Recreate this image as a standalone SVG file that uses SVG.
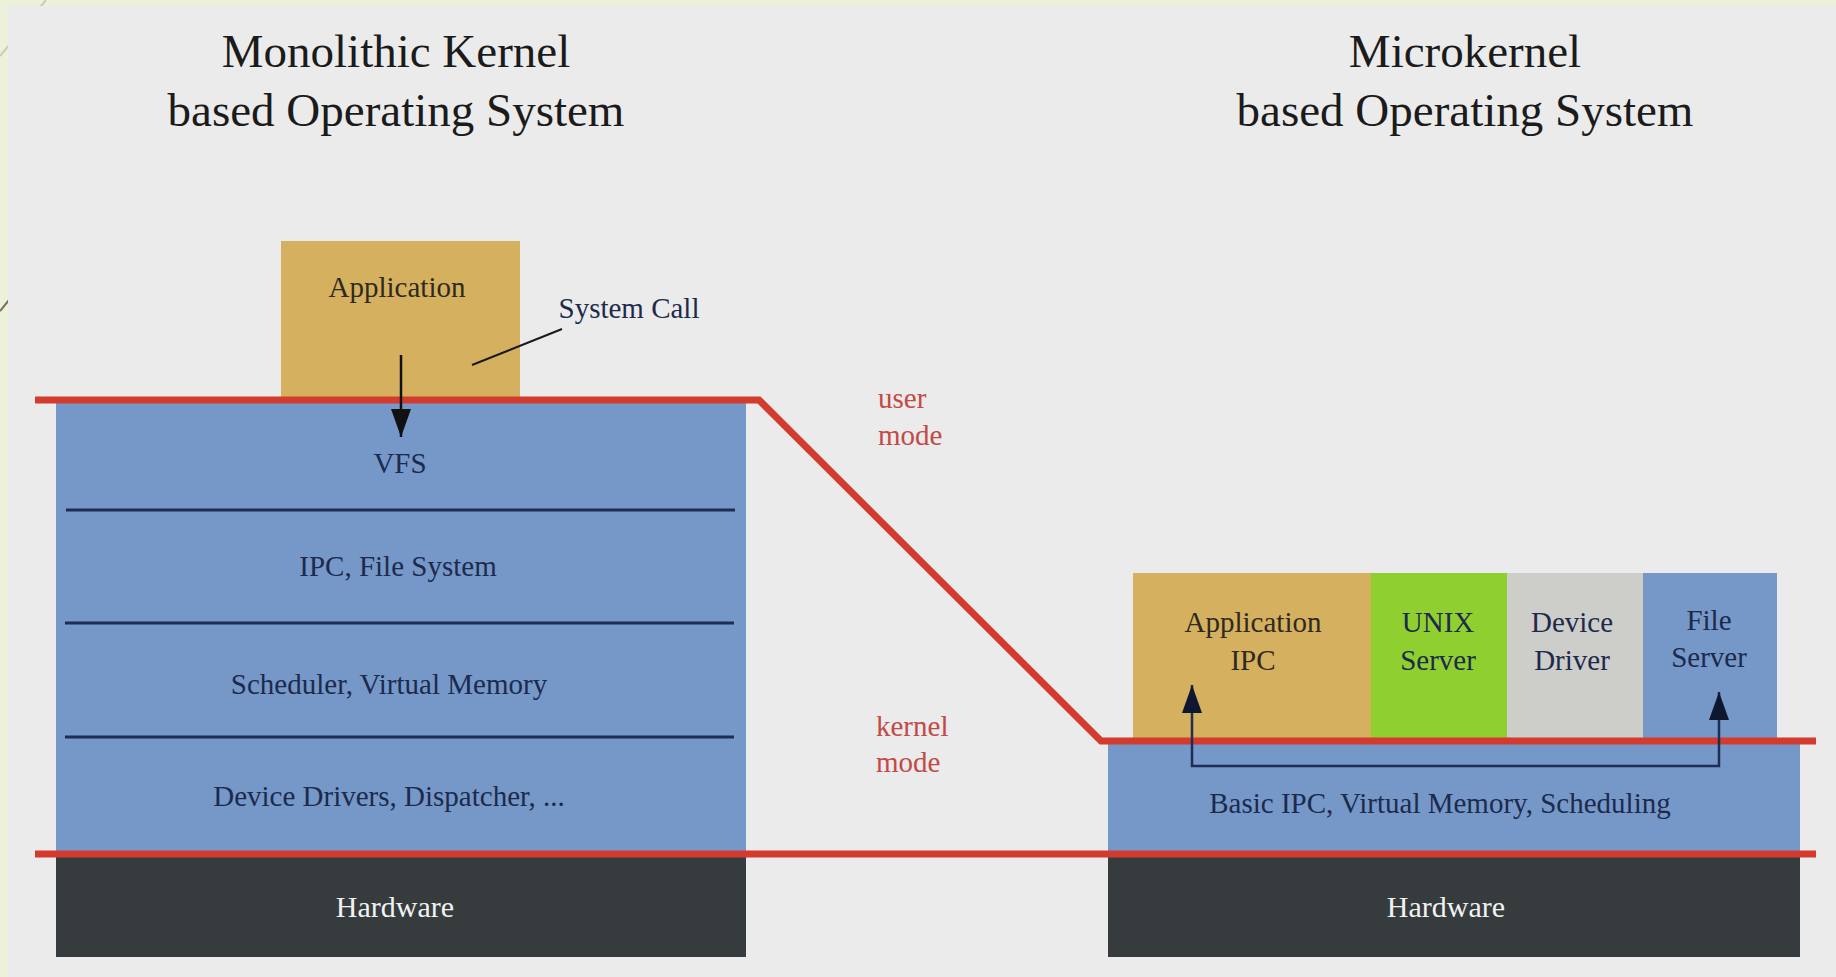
<svg xmlns="http://www.w3.org/2000/svg" width="1836" height="977" viewBox="0 0 1836 977">
  <style>
    .title { font-family: "Liberation Serif", "Times New Roman", serif; font-size: 47px; fill: #1b1b1b; text-anchor: middle; }
    .lbl { font-family: "Liberation Serif", "Times New Roman", serif; font-size: 29px; fill: #1d2a4c; text-anchor: middle; }
    .dark { fill: #2e2a1e; }
    .hw { fill: #f2f2f2; font-size: 30px; }
    .mode { font-family: "Liberation Serif", "Times New Roman", serif; font-size: 29px; fill: #c24a47; }
    .sep { stroke: #1e2d52; stroke-width: 3; }
    .boundary { fill: none; stroke: #d43b2f; stroke-width: 7; stroke-linejoin: miter; }
    .blue { fill: #7598c9; }
    .tan { fill: #d5b05f; }
    .hwbox { fill: #363b3e; }
  </style>
  <defs>
    <marker id="arrow-black" viewBox="0 0 28 20" refX="28" refY="10" markerWidth="28" markerHeight="20" markerUnits="userSpaceOnUse" orient="auto">
      <path d="M0,0 L28,10 L0,20 Z" fill="#111111"/>
    </marker>
    <marker id="arrow-navy" viewBox="0 0 28 20" refX="28" refY="10" markerWidth="28" markerHeight="20" markerUnits="userSpaceOnUse" orient="auto-start-reverse">
      <path d="M0,0 L28,10 L0,20 Z" fill="#0e1630"/>
    </marker>
  </defs>

  <!-- slide frame -->
  <rect x="0" y="0" width="1836" height="977" fill="#ecf1da"/>
  <line x1="46" y1="0" x2="0" y2="56" stroke="#c9ccb6" stroke-width="2"/>
  <line x1="48" y1="252" x2="0" y2="311" stroke="#7a6e55" stroke-width="2"/>
  <rect x="8" y="6" width="1828" height="971" fill="#ebebeb"/>

  <!-- headings -->
  <g id="title-monolithic">
    <text class="title" x="396" y="67">Monolithic Kernel</text>
    <text class="title" x="396" y="126">based Operating System</text>
  </g>
  <g id="title-microkernel">
    <text class="title" x="1465" y="67">Microkernel</text>
    <text class="title" x="1465" y="126">based Operating System</text>
  </g>

  <!-- monolithic kernel stack -->
  <g id="mono-application">
    <rect class="tan" x="281" y="241" width="239" height="160"/>
    <text class="lbl dark" x="397" y="297">Application</text>
  </g>
  <g id="mono-kernel">
    <rect class="blue" x="56" y="400" width="690" height="454"/>
    <line class="sep" x1="66" y1="510" x2="735" y2="510"/>
    <line class="sep" x1="65" y1="623" x2="734" y2="623"/>
    <line class="sep" x1="65" y1="737" x2="734" y2="737"/>
    <text class="lbl" x="400" y="473">VFS</text>
    <text class="lbl" x="398" y="576">IPC, File System</text>
    <text class="lbl" x="389" y="694">Scheduler, Virtual Memory</text>
    <text class="lbl" x="389" y="806">Device Drivers, Dispatcher, ...</text>
  </g>
  <g id="mono-hardware">
    <rect class="hwbox" x="56" y="854" width="690" height="103"/>
    <text class="lbl hw" x="395" y="917">Hardware</text>
  </g>
  <g id="syscall-label">
    <text class="lbl" x="629" y="318">System Call</text>
  </g>

  <!-- microkernel stack -->
  <g id="micro-app-ipc">
    <rect class="tan" x="1133" y="573" width="238" height="168"/>
    <text class="lbl dark" x="1253" y="632">Application</text>
    <text class="lbl dark" x="1253" y="670">IPC</text>
  </g>
  <g id="micro-unix-server">
    <rect x="1371" y="573" width="136" height="168" fill="#8fd030"/>
    <text class="lbl" x="1438" y="632">UNIX</text>
    <text class="lbl" x="1438" y="670">Server</text>
  </g>
  <g id="micro-device-driver">
    <rect x="1507" y="573" width="136" height="168" fill="#cdcdc9"/>
    <text class="lbl" x="1572" y="632">Device</text>
    <text class="lbl" x="1572" y="670">Driver</text>
  </g>
  <g id="micro-file-server">
    <rect class="blue" x="1643" y="573" width="134" height="168"/>
    <text class="lbl" x="1709" y="630">File</text>
    <text class="lbl" x="1709" y="667">Server</text>
  </g>
  <g id="micro-kernel">
    <rect class="blue" x="1108" y="741" width="692" height="113"/>
    <text class="lbl" x="1440" y="813">Basic IPC, Virtual Memory, Scheduling</text>
  </g>
  <g id="micro-hardware">
    <rect class="hwbox" x="1108" y="854" width="692" height="103"/>
    <text class="lbl hw" x="1446" y="917">Hardware</text>
  </g>

  <!-- user / kernel mode boundary -->
  <g id="mode-boundary">
    <polyline class="boundary" points="35,400 759,400 1101,741 1816,741"/>
    <line class="boundary" x1="35" y1="854" x2="1816" y2="854"/>
    <text class="mode" x="878" y="408">user</text>
    <text class="mode" x="878" y="445">mode</text>
    <text class="mode" x="876" y="736">kernel</text>
    <text class="mode" x="876" y="772">mode</text>
  </g>

  <!-- connectors -->
  <g id="connectors">
    <line x1="562" y1="329" x2="472" y2="365" stroke="#1a1a1a" stroke-width="2"/>
    <line x1="401" y1="355" x2="401" y2="437" stroke="#111111" stroke-width="2.5" marker-end="url(#arrow-black)"/>
    <path d="M1192,685 L1192,766 L1719,766 L1719,692" fill="none" stroke="#1e2d52" stroke-width="2.5" marker-start="url(#arrow-navy)" marker-end="url(#arrow-navy)"/>
  </g>
</svg>
